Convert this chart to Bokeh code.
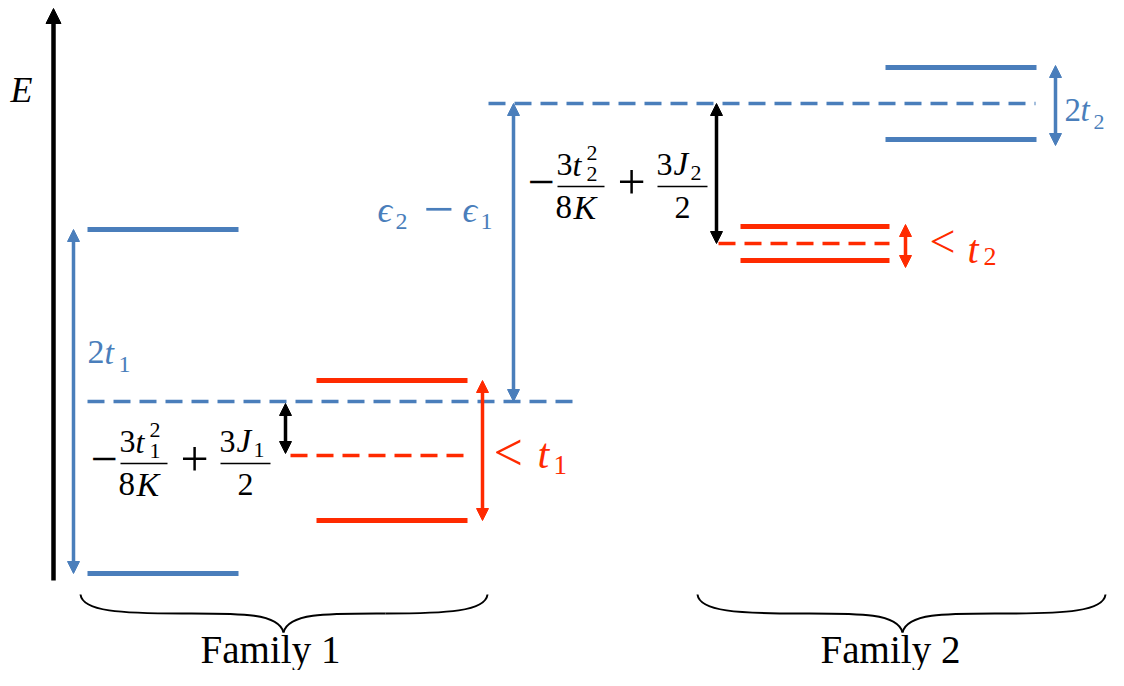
from bokeh.plotting import figure
from bokeh.models import Range1d, Label, Arrow, NormalHead
from bokeh.embed import file_html
from bokeh.resources import INLINE

# ---------------- data (energy units, E = 600 - pixel row) ----------------
families = ["Family 1", "Family 2"]
eps_bare = [199, 497]      # bare on-site energies eps1, eps2 (blue dashed)
t_half = [172, 36]         # t1, t2 : blue levels at eps +/- t
red_mid = [145, 357]       # eps - 3t^2/8K + 3J/2 (red dashed)
red_hi = [220, 374]        # upper red level
red_lo = [80, 340]         # lower red level
axis_E = [20, 592]         # energy axis extent

BLUE = "#4A7EBB"
RED = "#FF2A00"
SERIF = "'Liberation Serif'"
MID = 0.3375  # em-box centre above the baseline for Liberation Serif

W, H = 1108, 670
p = figure(width=W, height=H, x_range=Range1d(0, W), y_range=Range1d(600 - H, 600),
           x_axis_type=None, y_axis_type=None, toolbar_location=None, output_backend="svg",
           min_border=0, outline_line_color=None, background_fill_color="white",
           border_fill_color="white")
p.grid.visible = False


def Y(ypix):
    return 600 - ypix


def txt(x, ybase, s, size, color="black", italic=False, align="left"):
    p.add_layout(Label(x=x, y=Y(ybase - MID * size), text=s, text_font=SERIF,
                       text_font_size=f"{size}px",
                       text_font_style="italic" if italic else "normal", text_color=color,
                       text_align=align, text_baseline="middle"))


def op(x, ycenter, s, size, color="black"):
    # operator glyph (minus, plus, less-than) centred on the maths axis at ycenter
    txt(x, ycenter + 0.25 * size, s, size, color)


def darrow(x, e0, e1, color, lw=3.5, size=12, both=True):
    start = NormalHead(size=size, fill_color=color, line_color=color, line_width=1) if both else None
    end = NormalHead(size=size, fill_color=color, line_color=color, line_width=1)
    p.add_layout(Arrow(x_start=x, y_start=e0, x_end=x, y_end=e1, start=start, end=end,
                       line_color=color, line_width=lw))


# ---------------- energy axis ----------------
darrow(53, axis_E[0], axis_E[1], "black", lw=4.5, size=15, both=False)
txt(10, 102, "E", 36, italic=True)

# ---------------- layout of the level columns ----------------
blue_x = [(87, 238), (885, 1036)]
red_x = [(316, 467), (740, 889)]
blue_dash_x = [(87, 578), (488, 1035)]
red_dash_x = [(290, 470), (718, 889)]

for i in range(2):
    bx0, bx1 = blue_x[i]
    rx0, rx1 = red_x[i]
    up, lo = eps_bare[i] + t_half[i], eps_bare[i] - t_half[i]
    p.segment([bx0, bx0], [up, lo], [bx1, bx1], [up, lo], line_color=BLUE, line_width=5)
    p.segment([rx0, rx0], [red_hi[i], red_lo[i]], [rx1, rx1], [red_hi[i], red_lo[i]],
              line_color=RED, line_width=5)
    dx0, dx1 = blue_dash_x[i]
    p.segment([dx0], [eps_bare[i]], [dx1], [eps_bare[i]], line_color=BLUE, line_width=3.5,
              line_dash="17 9")
    dx0, dx1 = red_dash_x[i]
    p.segment([dx0], [red_mid[i]], [dx1], [red_mid[i]], line_color=RED, line_width=3.5,
              line_dash="17 9")

# splitting arrows
darrow(73, eps_bare[0] - t_half[0], eps_bare[0] + t_half[0], BLUE)
darrow(1055, eps_bare[1] - t_half[1] - 6, eps_bare[1] + t_half[1] + 2, BLUE)
darrow(482, red_lo[0], red_hi[0], RED)
darrow(905, red_lo[1] - 7, red_hi[1] + 2, RED)
# shift arrows
darrow(285, red_mid[0] + 2, eps_bare[0] - 2, "black")
darrow(716, red_mid[1], eps_bare[1], "black")
# eps2 - eps1 arrow
darrow(513, eps_bare[0], eps_bare[1], BLUE)

# ---------------- labels ----------------
# 2t1
txt(87, 363, "2", 34, BLUE)
txt(104, 363, "t", 34, BLUE, italic=True)
txt(118, 372, "1", 24, BLUE)
# 2t2
txt(1064, 121, "2", 33, BLUE)
txt(1080, 121, "t", 33, BLUE, italic=True)
txt(1093, 129, "2", 22, BLUE)
# < t1
op(493, 457, "<", 52, RED)
txt(537, 468, "t", 42, RED, italic=True)
txt(553, 474, "1", 27, RED)
# < t2
op(929, 245, "<", 46, RED)
txt(967, 262, "t", 40, RED, italic=True)
txt(983, 265, "2", 26, RED)
# eps2 - eps1
txt(377, 222, "\u03f5", 36, BLUE, italic=True)
txt(395, 229, "2", 24, BLUE)
op(423, 213, "\u2212", 54, BLUE)
txt(462, 222, "\u03f5", 36, BLUE, italic=True)
txt(480, 229, "1", 24, BLUE)


def formula(dx, dy, sub):
    op(90 + dx, 463 + dy, "\u2212", 48)
    txt(119 + dx, 452 + dy, "3", 32)
    txt(135 + dx, 452 + dy, "t", 32, italic=True)
    txt(149 + dx, 437 + dy, "2", 22)
    txt(149 + dx, 458 + dy, sub, 22)
    p.segment([120 + dx], [Y(463 + dy)], [167 + dx], [Y(463 + dy)], line_color="black", line_width=1.5)
    txt(118 + dx, 495 + dy, "8", 33)
    txt(136 + dx, 495 + dy, "K", 34, italic=True)
    op(180 + dx, 463 + dy, "+", 50)
    txt(219 + dx, 452 + dy, "3", 32)
    txt(236 + dx, 452 + dy, "J", 33, italic=True)
    txt(253 + dx, 457 + dy, sub, 22)
    p.segment([220 + dx], [Y(463 + dy)], [270 + dx], [Y(463 + dy)], line_color="black", line_width=1.5)
    txt(237 + dx, 495 + dy, "2", 32)


formula(0, 0, "1")
formula(437, -277, "2")

# ---------------- braces ----------------
brace_spans = [(80, 283, 487), (697, 902, 1105)]
for xl, xm, xr in brace_spans:
    top, flat, tip = 594, 613, 632
    xq = (xl + xm) / 2
    xq2 = (xm + xr) / 2
    p.bezier(x0=[xl, xq, xr, xq2], y0=[Y(top), Y(flat), Y(top), Y(flat)],
             x1=[xq, xm, xq2, xm], y1=[Y(flat), Y(tip), Y(flat), Y(tip)],
             cx0=[xl + 2, xq + (xm - xq) * 0.55, xr - 2, xq2 - (xq2 - xm) * 0.55],
             cy0=[Y(flat - 2), Y(flat), Y(flat - 2), Y(flat)],
             cx1=[xq - (xq - xl) * 0.6, xm - 5, xq2 + (xr - xq2) * 0.6, xm + 5],
             cy1=[Y(flat), Y(flat - 1), Y(flat), Y(flat - 1)],
             line_color="black", line_width=2)

centers = [270, 890]
for name, cx in zip(families, centers):
    txt(cx, 662, name, 39, align="center")

open("out.html", "w").write(file_html(p, INLINE))
